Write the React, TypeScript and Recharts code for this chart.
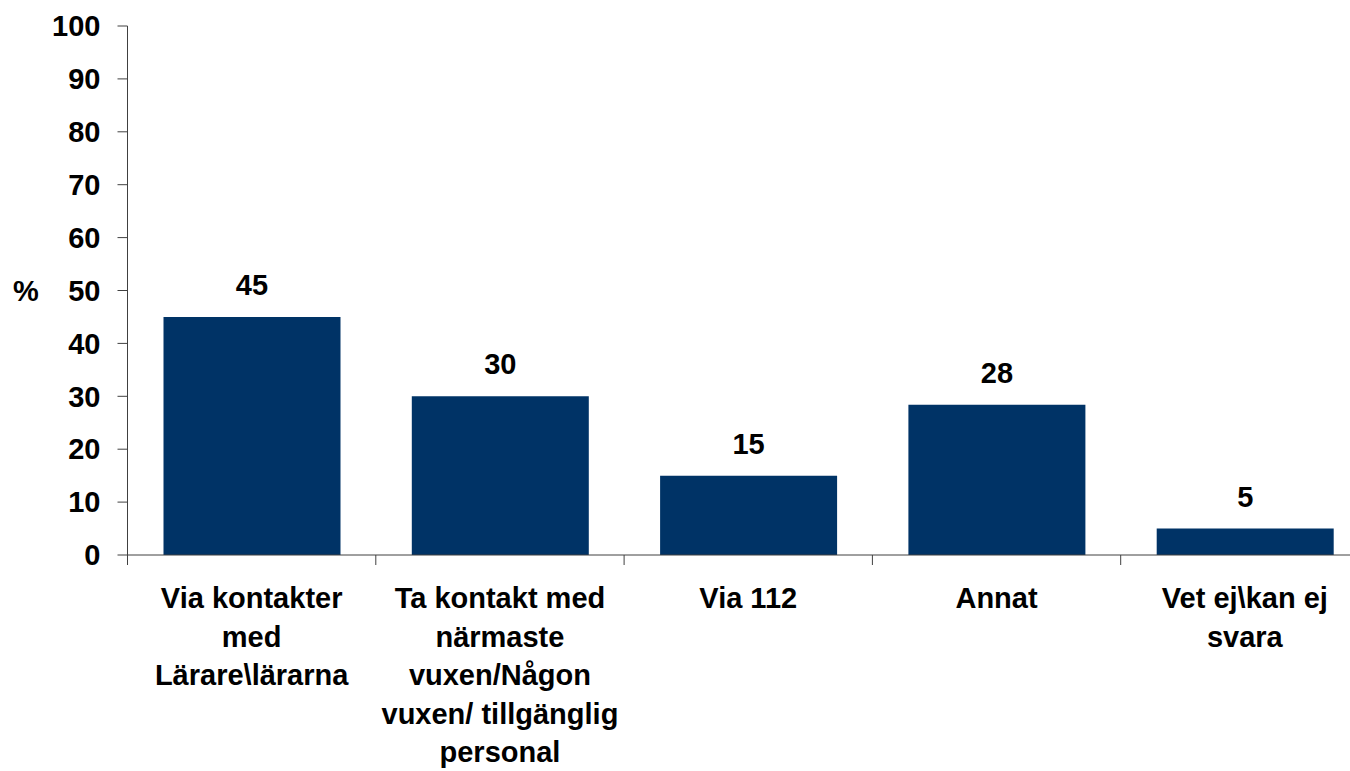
import React from 'react';
import { Bar, BarChart, LabelList, XAxis, YAxis } from 'recharts';

const categories = [
  'Via kontakter\nmed\nLärare\\lärarna',
  'Ta kontakt med\nnärmaste\nvuxen/Någon\nvuxen/ tillgänglig\npersonal',
  'Via 112',
  'Annat',
  'Vet ej\\kan ej\nsvara',
];
const values = [45, 30, 15, 28.4, 5];
const valueLabels = ['45', '30', '15', '28', '5'];
const yTicks = [0, 10, 20, 30, 40, 50, 60, 70, 80, 90, 100];

const data = categories.map((name, i) => ({ name, value: values[i], label: valueLabels[i] }));

const FONT = '"Liberation Sans", Arial, sans-serif';
const AXIS = '#404040';

const CategoryTick = (props: any) => {
  const { x, y, payload, index, visibleTicksCount } = props;
  const half = payload?.offset ?? 124;
  const lines = String(payload.value).split('\n');
  const left = x - half;
  const right = x + half;
  return (
    <g>
      <line x1={left} y1={y} x2={left} y2={y + 10} stroke={AXIS} strokeWidth={1} />
      {index === visibleTicksCount - 1 && (
        <line x1={right} y1={y} x2={right} y2={y + 10} stroke={AXIS} strokeWidth={1} />
      )}
      <text
        x={x}
        y={y + 53}
        textAnchor="middle"
        fontFamily={FONT}
        fontWeight="bold"
        fontSize={29}
        fill="#000"
      >
        {lines.map((l, i) => (
          <tspan key={i} x={x} dy={i === 0 ? 0 : 38.5}>
            {l}
          </tspan>
        ))}
      </text>
    </g>
  );
};

export default function App() {
  return (
    <div
      style={{
        position: 'absolute',
        left: 0,
        top: 0,
        width: 1350,
        height: 771,
        overflow: 'hidden',
        background: '#fff',
      }}
    >
      <BarChart
        width={1369}
        height={771}
        data={data}
        margin={{ top: 26, right: 0, bottom: 0, left: 0 }}
        barSize={177}
      >
        <XAxis
          dataKey="name"
          height={216}
          interval={0}
          tickLine={false}
          tickSize={0}
          tickMargin={0}
          axisLine={{ stroke: AXIS, strokeWidth: 1 }}
          tick={<CategoryTick />}
        />
        <YAxis
          width={127.5}
          domain={[0, 100]}
          ticks={yTicks}
          interval={0}
          tickSize={10}
          tickMargin={17}
          axisLine={{ stroke: AXIS, strokeWidth: 1 }}
          tickLine={{ stroke: AXIS, strokeWidth: 1 }}
          tick={{ fill: '#000', fontFamily: FONT, fontWeight: 'bold', fontSize: 29 }}
          label={{
            value: '%',
            position: 'insideLeft',
            offset: 13,
            fill: '#000',
            fontFamily: FONT,
            fontWeight: 'bold',
            fontSize: 29,
          }}
        />
        <Bar dataKey="value" fill="#003366" isAnimationActive={false}>
          <LabelList
            dataKey="label"
            position="top"
            offset={22}
            fill="#000"
            fontFamily={FONT}
            fontWeight="bold"
            fontSize={29}
          />
        </Bar>
      </BarChart>
    </div>
  );
}
